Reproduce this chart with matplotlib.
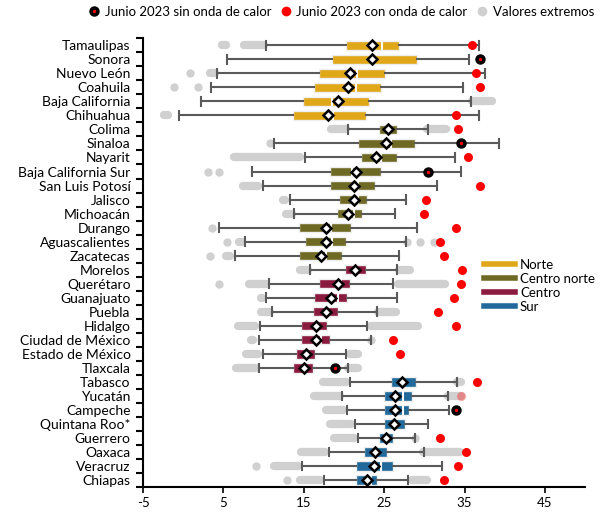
import matplotlib.pyplot as plt
from matplotlib.lines import Line2D

plt.rcParams['font.family'] = ['Lato', 'DejaVu Sans']
plt.rcParams['axes.unicode_minus'] = False

# estados, ordenados como en la figura
states = ["Tamaulipas", "Sonora", "Nuevo León", "Coahuila", "Baja California", "Chihuahua",
          "Colima", "Sinaloa", "Nayarit", "Baja California Sur", "San Luis Potosí", "Jalisco",
          "Michoacán", "Durango", "Aguascalientes", "Zacatecas",
          "Morelos", "Querétaro", "Guanajuato", "Puebla", "Hidalgo", "Ciudad de México",
          "Estado de México", "Tlaxcala",
          "Tabasco", "Yucatán", "Campeche", "Quintana Roo*", "Guerrero", "Oaxaca", "Veracruz", "Chiapas"]
regions = ["Norte"] * 6 + ["Centro norte"] * 10 + ["Centro"] * 8 + ["Sur"] * 8

# cajas
whislo = [10.3, 5.4, 4.2, 3.4, 2.2, -0.5, 20.5, 11.3, 15.1, 8.6, 9.9, 13.3, 13.8, 4.4, 7.7, 6.5,
          15.8, 10.7, 10.3, 11.1, 9.5, 9.4, 9.9, 9.4, 20.8, 19.8, 20.4, 21.4, 21.8, 18.1, 14.8, 17.5]
q1 = [20.3, 18.5, 16.9, 16.3, 14.9, 13.6, 24.3, 21.8, 22.1, 18.3, 18.3, 19.4, 19.1, 14.4, 15.1, 14.4,
      20.1, 16.9, 16.3, 16.1, 14.7, 14.7, 14.0, 13.7, 25.8, 25.0, 25.0, 25.0, 24.3, 22.5, 21.5, 21.5]
med = [24.7, 23.6, 21.6, 21.5, 18.5, 18.6, 25.6, 25.8, 24.6, 21.0, 21.7, 21.8, 21.2, 18.4, 18.5, 17.8,
       21.6, 19.6, 19.3, 17.9, 16.6, 17.1, 15.4, 15.1, 27.3, 27.3, 27.3, 26.4, 25.3, 24.0, 24.6, 23.3]
q3 = [26.9, 29.1, 25.1, 24.6, 23.1, 22.7, 26.6, 28.8, 26.6, 24.6, 23.9, 22.9, 22.2, 20.9, 20.2, 19.7,
      22.7, 20.7, 20.4, 19.2, 17.9, 18.2, 16.4, 16.2, 28.9, 28.4, 28.1, 27.6, 26.1, 25.4, 26.1, 24.1]
whishi = [36.8, 35.6, 37.5, 34.8, 35.8, 36.8, 30.4, 39.3, 33.8, 34.6, 31.6, 27.7, 26.4, 29.1, 27.7, 26.8,
          26.6, 26.1, 26.6, 24.1, 22.9, 23.3, 20.2, 20.5, 34.0, 32.9, 33.1, 30.4, 28.8, 29.9, 32.2, 28.0]
mean = [23.5, 23.5, 20.7, 20.5, 19.3, 18.0, 25.5, 25.2, 24.0, 21.5, 21.2, 21.2, 20.5, 17.8, 17.8, 17.1,
        21.4, 19.3, 18.4, 17.7, 16.5, 16.5, 15.3, 15.0, 27.2, 26.4, 26.4, 26.2, 25.2, 23.9, 23.7, 22.8]

# junio 2023
con_onda = [35.9, None, 36.4, 36.9, None, 33.9, 34.2, None, 35.4, None, 36.9, 30.2,
            30.0, 33.9, 32.0, 32.4, 34.7, 34.5, 33.7, 31.7, 33.9, 26.1, 27.0, None,
            36.5, 34.6, None, None, 32.0, 35.2, 34.2, 32.4]
sin_onda = [None, 36.9, None, None, None, None, None, 34.5, None, 30.5, None, None,
            None, None, None, None, None, None, None, None, None, None, None, 18.9,
            None, None, 33.9, None, None, None, None, None]

# valores extremos (tramos inicio-fin de puntos encimados)
extremos = [
    [(4.85, 5.35), (7.6, 10.0)], [], [(0.8, 0.8), (3.3, 4.0)], [(-1.2, -1.2), (1.8, 1.8)],
    [(35.9, 38.4)], [(-2.4, -1.9)], [(18.4, 20.3), (30.3, 32.7)], [(10.8, 10.8)],
    [(6.3, 14.5)], [(3.1, 3.1), (4.5, 4.5)], [(7.4, 9.3)], [(12.4, 12.6)],
    [(12.8, 13.5)], [(3.6, 3.6)], [(5.4, 5.4), (6.9, 7.3), (27.8, 27.8), (29.5, 29.5), (31.2, 31.2)],
    [(3.3, 3.3), (5.3, 5.8)],
    [(14.5, 15.5), (26.9, 28.2)], [(4.5, 4.5), (8.2, 10.3), (26.7, 32.6)], [(9.7, 9.8)],
    [(9.7, 10.8), (24.2, 26.5)], [(6.8, 8.9), (23.4, 29.2)], [(8.4, 8.7), (23.3, 23.3)],
    [(7.8, 9.3), (20.7, 21.8)], [(6.6, 9.1), (20.5, 21.8)],
    [(17.4, 20.3), (34.0, 34.6)], [(16.3, 19.5), (32.9, 34.6)], [(17.8, 19.9)], [(18.2, 20.9)],
    [(18.7, 21.3), (28.8, 28.8)], [(14.7, 17.6), (29.8, 34.4)], [(9.1, 9.1), (11.3, 14.3)],
    [(12.9, 12.9), (14.5, 17.0), (28.5, 30.3)],
]

region_names = ["Norte", "Centro norte", "Centro", "Sur"]
region_colors = ["#E0A718", "#6F6A23", "#8B1B3E", "#20699A"]
color_of = dict(zip(region_names, region_colors))
grey = "#D0D0D0"

fig, ax = plt.subplots(figsize=(6.14, 5.18), dpi=100)
fig.subplots_adjust(left=0.233, right=0.953, top=0.926, bottom=0.06)

for i in range(len(states)):
    # valores extremos
    for a, b in extremos[i]:
        if a == b:
            ax.plot([a], [i], "o", color=grey, ms=6, mec="none", zorder=1)
        else:
            ax.plot([a, b], [i, i], color=grey, lw=6, solid_capstyle="round", zorder=1)

    st = dict(med=med[i], q1=q1[i], q3=q3[i], whislo=whislo[i], whishi=whishi[i],
              mean=mean[i], fliers=[])
    ax.bxp([st], positions=[i], widths=0.68, orientation="horizontal",
           showmeans=True, showfliers=False, patch_artist=True, manage_ticks=False,
           capwidths=0.6,
           boxprops=dict(facecolor=color_of[regions[i]], edgecolor="#EEEEEE", lw=1),
           medianprops=dict(color="white", lw=1.5),
           whiskerprops=dict(color="#5A5A5A", lw=1.5),
           capprops=dict(color="#5A5A5A", lw=1.5),
           meanprops=dict(marker="D", markerfacecolor="white", markeredgecolor="black",
                          markeredgewidth=1.8, markersize=5.5))

    if con_onda[i] is not None:
        alpha = 0.35 if states[i] == "Yucatán" else 1
        ax.plot([con_onda[i]], [i], "o", color="red", ms=6.5, mec="none", alpha=alpha, zorder=5)
    if sin_onda[i] is not None:
        ax.plot([sin_onda[i]], [i], "o", mfc="red", mec="black", mew=2.5, ms=5, zorder=5)

ax.set_ylim(len(states) - 0.5, -0.5)
ax.set_yticks(range(len(states)))
ax.set_yticklabels(states, fontsize=10)
ax.set_yticks([k - 0.5 for k in range(len(states) + 1)], minor=True)
ax.tick_params(axis="y", which="major", length=0, pad=9)
ax.tick_params(axis="y", which="minor", length=5, width=1.5)

ax.set_xlim(-5, 50)
ax.set_xticks(range(-5, 50, 10))
ax.tick_params(axis="x", length=4, width=1.2, labelsize=9.5)

for side in ["top", "right"]:
    ax.spines[side].set_visible(False)
for side in ["left", "bottom"]:
    ax.spines[side].set_linewidth(1.5)

# leyenda superior
top_handles = [
    Line2D([], [], ls="none", marker="o", mfc="red", mec="black", mew=2.5, ms=5),
    Line2D([], [], ls="none", marker="o", color="red", mec="none", ms=7),
    Line2D([], [], ls="none", marker="o", color=grey, mec="none", ms=7),
]
fig.legend(top_handles, ["Junio 2023 sin onda de calor", "Junio 2023 con onda de calor", "Valores extremos"],
           loc="upper center", bbox_to_anchor=(0.555, 1.012), ncol=3, frameon=False,
           fontsize=9.5, handlelength=1, handletextpad=0.3, columnspacing=0.6)

# leyenda de regiones
reg_handles = [Line2D([], [], color=c, lw=4) for c in region_colors]
ax.legend(reg_handles, region_names, loc="upper left", bbox_to_anchor=(0.745, 0.535),
          frameon=False, fontsize=9.5, handlelength=2.3, handletextpad=0.4, labelspacing=0.15)

plt.savefig("out.png")
